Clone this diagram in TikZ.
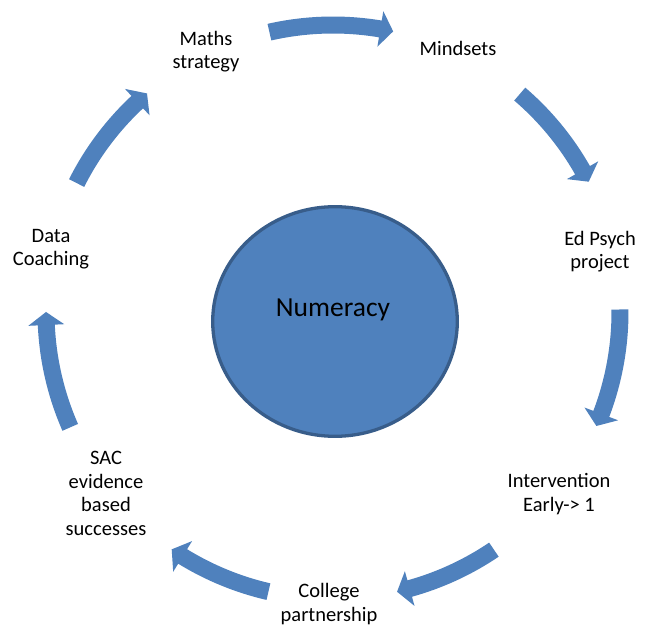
\documentclass[tikz,border=0pt]{standalone}
\usepackage{fontspec}
\setmainfont{Carlito}
\usetikzlibrary{calc}
\definecolor{accblue}{HTML}{4F81BD}
\definecolor{accdark}{HTML}{385D8A}
\tikzset{
  lbl/.style={font=\fontsize{20.5}{23.5}\selectfont, align=center, inner sep=0pt, anchor=base},
  arrowfill/.style={fill=accblue}
}
% #1 tail angle, #2 tip angle (clockwise arrow on a circle round O)
\newcommand{\cyclearrow}[2]{%
  \pgfmathsetmacro{\ahead}{#2+2.6}%
  \fill[arrowfill] ($(O)+(#1:295.5)$) arc[start angle=#1, end angle=\ahead, radius=295.5]
    -- ($(O)+(\ahead:305)$) -- ($(O)+(#2:287)$) -- ($(O)+(\ahead:269)$)
    -- ($(O)+(\ahead:278.5)$) arc[start angle=\ahead, end angle=#1, radius=278.5] -- cycle;
}
\begin{document}
\begin{tikzpicture}[x=1pt,y=1pt]
\useasboundingbox[fill=white] (0,0) rectangle (651,-628);
\coordinate (O) at (333,-312);
% centre ellipse
\fill[accblue, draw=accdark, line width=3.3pt] (335,-321.5) ellipse[x radius=122.3, y radius=114.8];
\node[font=\fontsize{27.5}{32}\selectfont, inner sep=0pt, anchor=base] (num) at (333,-317) {Numeracy};
% labels (anchor = baseline of the last line)
\node[lbl] (maths) at (206,-69) {Maths\\strategy};
\node[lbl] (mind) at (458,-56) {Mindsets};
\node[lbl] (edpsych) at (600,-269) {Ed Psych\\project};
\node[lbl] (interv) at (559,-511) {Intervention\\Early-> 1};
\node[lbl] (college) at (329,-621) {College\\partnership};
\node[lbl] (sac) at (106,-535) {SAC\\evidence\\based\\successes};
\node[lbl] (data) at (51,-266) {Data\\Coaching};
% cycle arrows
\cyclearrow{102.8}{77.9}
\cyclearrow{49.4}{27.0}
\cyclearrow{0.5}{-23.4}
\cyclearrow{-55.9}{-77.1}
\cyclearrow{-103}{-124.2}
\cyclearrow{203.7}{180}
\cyclearrow{153.3}{130.4}
\end{tikzpicture}
\end{document}
